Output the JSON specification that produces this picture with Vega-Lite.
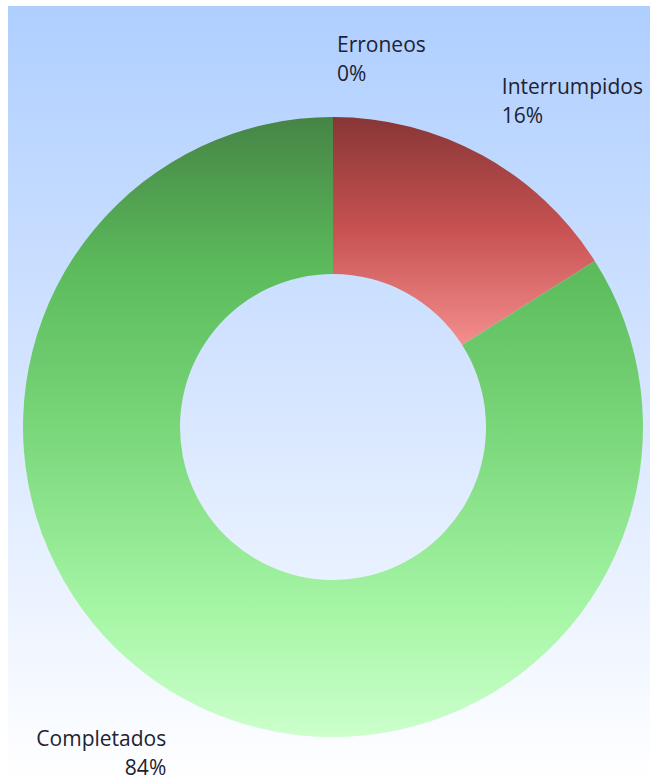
{
  "$schema": "https://vega.github.io/schema/vega-lite/v6.json",
  "width": 644,
  "height": 774,
  "autosize": {"type": "none"},
  "padding": {"left": 8, "top": 6, "right": 0, "bottom": 0},
  "background": "#ffffff",
  "config": {"view": {"stroke": "#a3a3a3", "strokeWidth": 2}},
  "data": {
    "values": [
      {"category": "Erroneos", "value": 0, "order": 1, "label": "Erroneos\n0%"},
      {"category": "Interrumpidos", "value": 16, "order": 2, "label": "Interrumpidos\n16%"},
      {"category": "Completados", "value": 84, "order": 3, "label": "Completados\n84%"}
    ]
  },
  "layer": [
    {
      "data": {"values": [{"bg": 1}]},
      "mark": {
        "type": "rect",
        "color": {
          "gradient": "linear", "x1": 0, "y1": 0, "x2": 0, "y2": 1,
          "stops": [
            {"offset": 0, "color": "#afcfff"},
            {"offset": 0.45, "color": "#d2e3ff"},
            {"offset": 1, "color": "#ffffff"}
          ]
        }
      },
      "encoding": {}
    },
    {
      "mark": {"type": "arc", "outerRadius": 310, "innerRadius": 153, "xOffset": 3, "yOffset": 34},
      "encoding": {
        "theta": {"field": "value", "type": "quantitative", "stack": true},
        "order": {"field": "order", "type": "quantitative"},
        "color": {
          "condition": {
            "test": "datum.category === 'Interrumpidos'",
            "value": {
              "gradient": "linear", "x1": 0, "y1": 0, "x2": 0, "y2": 1,
              "stops": [
                {"offset": 0, "color": "#883636"},
                {"offset": 0.5, "color": "#c85252"},
                {"offset": 1, "color": "#f48e8e"}
              ]
            }
          },
          "value": {
            "gradient": "linear", "x1": 0, "y1": 0, "x2": 0, "y2": 1,
            "stops": [
              {"offset": 0, "color": "#468446"},
              {"offset": 0.25, "color": "#5cbc5c"},
              {"offset": 0.5, "color": "#79d679"},
              {"offset": 0.8, "color": "#a6f6a6"},
              {"offset": 1, "color": "#ccffcc"}
            ]
          }
        }
      }
    },
    {
      "mark": {
        "type": "text",
        "radius": 342,
        "xOffset": {"expr": "datum.category === 'Completados' ? 1 : 7"},
        "yOffset": {"expr": "datum.category === 'Completados' ? 36 : 5"},
        "font": "Open Sans",
        "fontSize": 21,
        "lineHeight": 29,
        "lineBreak": "\n",
        "color": "#222230",
        "align": {"expr": "datum.category === 'Completados' ? 'right' : 'left'"},
        "baseline": {"expr": "datum.category === 'Completados' ? 'top' : 'bottom'"}
      },
      "encoding": {
        "theta": {"field": "value", "type": "quantitative", "stack": true},
        "order": {"field": "order", "type": "quantitative"},
        "text": {"field": "label", "type": "nominal"}
      }
    }
  ]
}
